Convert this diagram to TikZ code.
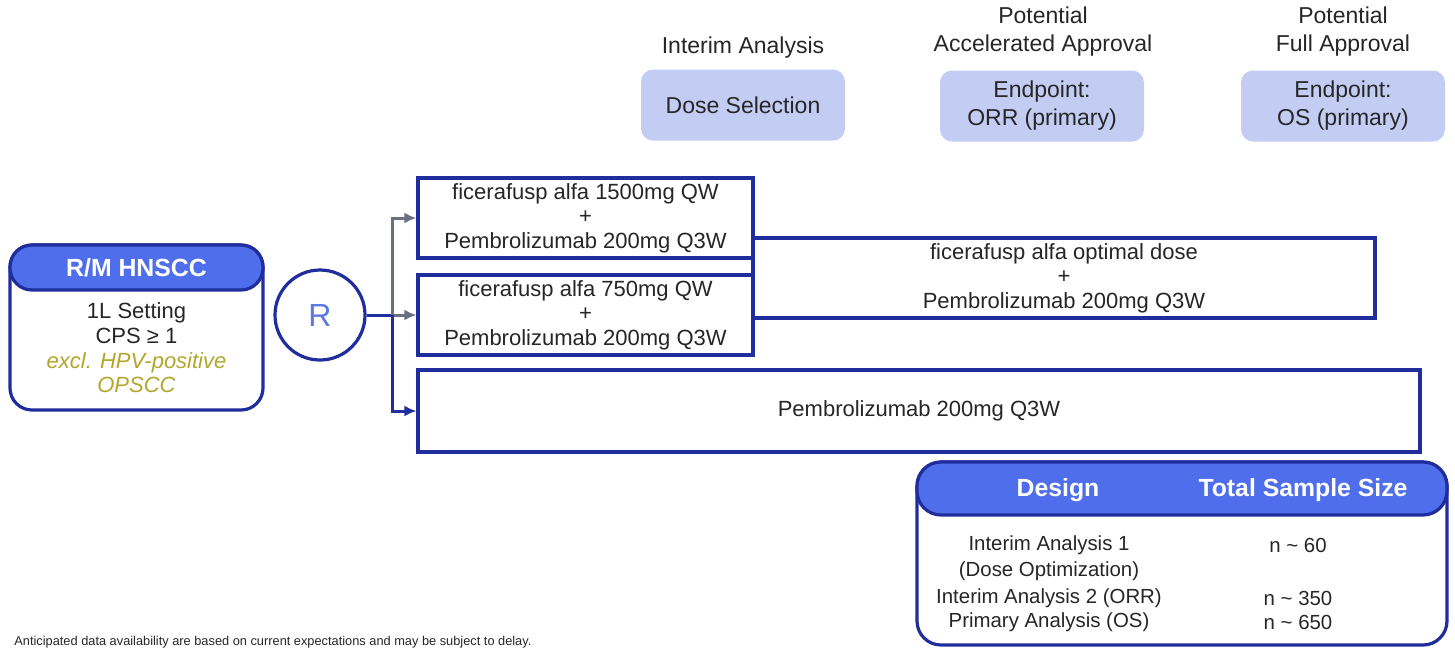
\documentclass[tikz,border=0pt]{standalone}
\usepackage{fontspec}
\setmainfont{Liberation Sans}
\usepackage{xcolor}
\usetikzlibrary{arrows.meta,positioning,calc}
\definecolor{navy}{HTML}{1F2E9C}
\definecolor{hdblue}{HTML}{4F6EEB}
\definecolor{paleblue}{HTML}{C3CDF4}
\definecolor{arrgray}{HTML}{6B7081}
\definecolor{olive}{HTML}{B3A62B}
\definecolor{rblue}{HTML}{5B78E6}
\definecolor{ink}{HTML}{262626}
\newcommand\armfont{\fontsize{11}{12.3}\selectfont}
\newcommand\topfont{\fontsize{11.5}{14}\selectfont}
\newcommand\hdfont{\fontsize{12.4}{14}\selectfont\bfseries}
\newcommand\rowfont{\fontsize{10.2}{13}\selectfont}
\newcommand\notefont{\fontsize{6.4}{7}\selectfont}
\tikzset{
  arm/.style={draw=navy, line width=1.6pt, fill=white, align=center, inner sep=2pt,
              font=\armfont, minimum height=40pt},
  milestone/.style={fill=paleblue, rounded corners=6pt, align=center,
                    minimum width=102pt, minimum height=35.5pt, font=\topfont},
  mslabel/.style={align=center, font=\topfont},
  frame/.style={draw=navy, line width=1.6pt, rounded corners=11pt, fill=white},
  hdbar/.style={draw=navy, line width=1.6pt, fill=hdblue, rounded corners=11pt,
                text=white, font=\hdfont},
  link/.style={line width=1.5pt, -{Latex[length=6pt,width=5.5pt]}},
}

\begin{document}
\begin{tikzpicture}[x=0.5pt, y=-0.5pt, text=ink]
    \useasboundingbox (0,0) rectangle (1455,650);
    % milestones
    \node[milestone] (dose) at (743,105) {Dose Selection};
    \node[milestone] (orr)  at (1042,106) {Endpoint:\\ORR (primary)};
    \node[milestone] (os)   at (1343,106) {Endpoint:\\OS (primary)};
    \node[mslabel] (doselbl) at (743,48)  {Interim Analysis};
    \node[mslabel] (orrlbl)  at (1043,32) {Potential\\Accelerated Approval};
    \node[mslabel] (oslbl)   at (1343,32) {Potential\\Full Approval};
    % population
    \node[frame, minimum width=126.5pt, minimum height=82.5pt] (pop) at (136.5,327.5) {};
    \node[hdbar, minimum width=126.5pt, minimum height=22.5pt] (pophd) at (136.5,267.5) {R/M HNSCC};
    \node[align=center, font=\armfont] (popbody) at (136.5,348)
      {1L Setting\\CPS ≥ 1\\\textcolor{olive}{\itshape excl. HPV-positive}\\\textcolor{olive}{\itshape OPSCC}};
    \node[circle, draw=navy, line width=1.6pt, minimum size=45pt, text=rblue,
          font=\fontsize{16}{16}\selectfont] (rnd) at (320,315) {R};
    % arms
    \node[arm, minimum width=167.5pt] (hi) at (585.5,218) {ficerafusp alfa 1500mg QW\\+\\Pembrolizumab 200mg Q3W};
    \node[arm, minimum width=167.5pt] (lo) at (585.5,315) {ficerafusp alfa 750mg QW\\+\\Pembrolizumab 200mg Q3W};
    \node[arm, minimum width=311pt] (opt) at (1064,278) {ficerafusp alfa optimal dose\\+\\Pembrolizumab 200mg Q3W};
    \node[arm, minimum width=501pt, minimum height=41pt] (ctl) at (919,411) {Pembrolizumab 200mg Q3W};
    \coordinate (split) at (392,315);
    \draw[line width=1.5pt, navy] (rnd.east) -- (split);
    \draw[link, arrgray] (split) |- (hi.west);
    \draw[link, arrgray] (split) -- (lo.west);
    \draw[link, navy] (split) |- (ctl.west);
    % design table
    \node[frame, rounded corners=12pt, minimum width=265pt, minimum height=91.5pt] (design) at (1182,553.5) {};
    \node[hdbar, rounded corners=12pt, minimum width=265pt, minimum height=26.5pt] (designhd) at (1182,488.5) {};
    \node[font=\hdfont, text=white] (colA) at (1058,490) {Design};
    \node[font=\hdfont, text=white] (colB) at (1303,490) {Total Sample Size};
    \node[align=center, font=\rowfont] (ia1) at (1049,558) {Interim Analysis 1\\(Dose Optimization)};
    \node[font=\rowfont] (ia2) at (1049,598) {Interim Analysis 2 (ORR)};
    \node[font=\rowfont] (pa)  at (1049,622) {Primary Analysis (OS)};
    \node[font=\rowfont] (n1) at (1298,545) {n \textasciitilde{} 60};
    \node[font=\rowfont] (n2) at (1298,598) {n \textasciitilde{} 350};
    \node[font=\rowfont] (n3) at (1298,622) {n \textasciitilde{} 650};
    \node[anchor=west, font=\notefont, inner sep=0pt] (note) at (14,642)
      {Anticipated data availability are based on current expectations and may be subject to delay.};
  \end{tikzpicture}
\end{document}
